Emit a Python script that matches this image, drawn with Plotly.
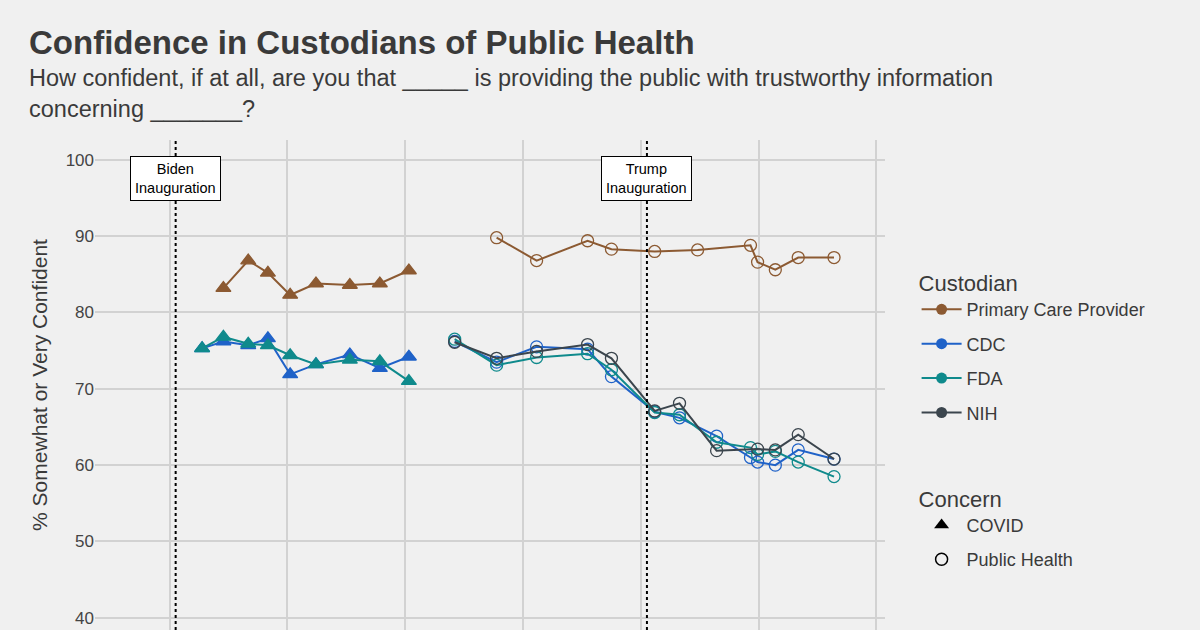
import plotly.graph_objects as go

covid_dates = ["2021-04-12","2021-06-17","2021-09-02","2021-11-02","2022-01-10","2022-03-31","2022-07-14","2022-10-15","2023-01-13"]
covid_pcp = [None,83.2,86.8,85.2,82.3,83.8,83.6,83.8,85.5]
covid_cdc = [75.3,76.2,75.7,76.6,71.9,73.2,74.5,72.7,74.2]
covid_fda = [75.3,76.8,75.9,75.7,74.4,73.2,73.8,73.6,71.0]

ph_pcp_dates = ["2023-10-12","2024-02-13","2024-07-20","2024-10-02","2025-02-13","2025-06-26","2025-12-07","2025-12-29","2026-02-22","2026-05-04","2026-08-23"]
ph_pcp = [89.8,86.8,89.4,88.3,88.0,88.2,88.8,86.6,85.6,87.2,87.2]
ph_dates = ["2023-06-04","2023-10-12","2024-02-13","2024-07-20","2024-10-02","2025-02-13","2025-05-01","2025-08-24","2025-12-07","2025-12-29","2026-02-22","2026-05-04","2026-08-23"]
ph_cdc = [76.2,73.5,75.5,75.2,71.6,67.0,66.2,63.8,61.0,60.4,60.0,62.0,60.8]
ph_fda = [76.5,73.1,74.1,74.6,72.5,66.9,66.6,63.0,62.3,61.4,61.8,60.4,58.5]
ph_nih_dates = ["2023-06-04","2023-10-12","2024-02-13","2024-07-20","2024-10-02","2025-02-13","2025-05-01","2025-08-24","2025-12-29","2026-02-22","2026-05-04","2026-08-23"]
ph_nih = [76.1,74.0,74.9,75.8,74.0,67.1,68.1,61.9,62.1,62.0,64.0,60.8]

events = [("2021-01-20","Biden<br>Inauguration"),("2025-01-20","Trump<br>Inauguration")]

C = {"Primary Care Provider":"#8c5a32","CDC":"#1f62c8","FDA":"#0f8a8c","NIH":"#3b454d"}

fig = go.Figure()
def add(x, y, name, sym):
    fig.add_trace(go.Scatter(x=x, y=y, mode="lines+markers", showlegend=False,
        line=dict(color=C[name], width=2),
        marker=dict(symbol=sym, size=13 if sym=="triangle-up" else 12, color=C[name],
                    line=dict(color=C[name], width=1.3)), connectgaps=False))

add(covid_dates, covid_pcp, "Primary Care Provider", "triangle-up")
add(covid_dates, covid_cdc, "CDC", "triangle-up")
add(covid_dates, covid_fda, "FDA", "triangle-up")
add(ph_pcp_dates, ph_pcp, "Primary Care Provider", "circle-open")
add(ph_dates, ph_cdc, "CDC", "circle-open")
add(ph_dates, ph_fda, "FDA", "circle-open")
add(ph_nih_dates, ph_nih, "NIH", "circle-open")

for n, c in C.items():
    fig.add_trace(go.Scatter(x=[None], y=[None], mode="lines+markers", name=n, legend="legend",
        legendgroup=n, line=dict(color=c, width=2), marker=dict(symbol="circle", size=11, color=c)))
fig.add_trace(go.Scatter(x=[None], y=[None], mode="markers", name="COVID", legend="legend2",
    legendgroup="covid", marker=dict(symbol="triangle-up", size=13, color="black")))
fig.add_trace(go.Scatter(x=[None], y=[None], mode="markers", name="Public Health", legend="legend2",
    legendgroup="ph", marker=dict(symbol="circle-open", size=12, color="black", line=dict(width=1.5))))

for d, t in events:
    fig.add_shape(type="line", x0=d, x1=d, y0=0, y1=1, yref="paper",
                  line=dict(color="black", width=2, dash="dot"))
    fig.add_annotation(x=d, y=97.6, text=t, showarrow=False, bgcolor="white",
                       bordercolor="black", borderwidth=1, borderpad=4,
                       font=dict(size=14.5, color="black"))

fig.add_annotation(text="<b>Confidence in Custodians of Public Health</b>", xref="paper", yref="paper",
                   x=-0.086, y=1.2, xanchor="left", yanchor="middle", showarrow=False,
                   font=dict(size=33, color="#3a3a3a"))
fig.add_annotation(text="How confident, if at all, are you that _____ is providing the public with trustworthy information<br>concerning _______?",
                   xref="paper", yref="paper", x=-0.086, y=1.094, xanchor="left", yanchor="middle",
                   align="left", showarrow=False, font=dict(size=23.5, color="#3a3a3a"))

fig.update_layout(
    width=1200, height=630, paper_bgcolor="#f0f0f0", plot_bgcolor="#f0f0f0",
    font=dict(family="Liberation Sans, Arial", color="#3a3a3a"),
    margin=dict(l=95, r=315, t=140, b=0),
    xaxis=dict(range=["2020-05-15","2027-01-28"], showgrid=True, gridcolor="#d2d2d2", gridwidth=2,
               dtick="M12", tick0="2021-01-01", showticklabels=False, zeroline=False),
    yaxis=dict(range=[38.4,102.6], tickvals=[40,50,60,70,80,90,100], showgrid=True,
               gridcolor="#d2d2d2", gridwidth=2, tickfont=dict(size=17, color="#444"),
               title=dict(text="% Somewhat or Very Confident", font=dict(size=21, color="#3a3a3a"), standoff=12),
               zeroline=False),
    legend=dict(title=dict(text="Custodian", font=dict(size=22)), x=1.04, y=0.75, yanchor="top",
                font=dict(size=18), bgcolor="rgba(0,0,0,0)", tracegroupgap=8, itemwidth=40),
    legend2=dict(title=dict(text="Concern", font=dict(size=22)), x=1.04, y=0.31, yanchor="top",
                 font=dict(size=18), bgcolor="rgba(0,0,0,0)", tracegroupgap=8, itemwidth=40),
)
fig.write_html("out.html", config={"displayModeBar": False},
               post_script="document.body.style.margin='0';document.body.style.background='#f0f0f0';")
